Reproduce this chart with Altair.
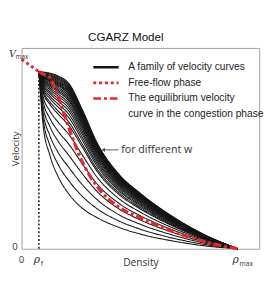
import altair as alt
import pandas as pd

# ---------------- data ----------------
rho_grid = [0.08, 0.09, 0.10, 0.13, 0.17, 0.22, 0.28, 0.35, 0.45, 0.55, 0.70, 0.85, 1.00]

family_curves = [
    [0.935, 0.780, 0.650, 0.497, 0.379, 0.287, 0.215, 0.164, 0.113, 0.077, 0.041, 0.015, 0.0],
    [0.935, 0.799, 0.684, 0.549, 0.443, 0.357, 0.278, 0.211, 0.147, 0.103, 0.056, 0.022, 0.0],
    [0.935, 0.817, 0.718, 0.600, 0.507, 0.427, 0.340, 0.259, 0.180, 0.129, 0.072, 0.029, 0.0],
    [0.935, 0.834, 0.749, 0.648, 0.566, 0.491, 0.398, 0.302, 0.211, 0.152, 0.086, 0.035, 0.0],
    [0.935, 0.850, 0.777, 0.691, 0.619, 0.550, 0.450, 0.341, 0.240, 0.174, 0.099, 0.041, 0.0],
    [0.935, 0.864, 0.803, 0.729, 0.667, 0.602, 0.497, 0.377, 0.265, 0.193, 0.110, 0.046, 0.0],
    [0.935, 0.876, 0.826, 0.764, 0.710, 0.649, 0.539, 0.408, 0.287, 0.210, 0.120, 0.050, 0.0],
    [0.935, 0.881, 0.834, 0.777, 0.726, 0.667, 0.554, 0.420, 0.296, 0.217, 0.124, 0.052, 0.0],
    [0.935, 0.887, 0.845, 0.794, 0.747, 0.690, 0.575, 0.436, 0.307, 0.225, 0.129, 0.054, 0.0],
    [0.935, 0.892, 0.854, 0.807, 0.763, 0.708, 0.591, 0.448, 0.315, 0.232, 0.133, 0.056, 0.0],
    [0.935, 0.896, 0.862, 0.820, 0.779, 0.725, 0.607, 0.460, 0.324, 0.238, 0.137, 0.058, 0.0],
    [0.935, 0.900, 0.869, 0.830, 0.792, 0.740, 0.620, 0.469, 0.331, 0.244, 0.140, 0.059, 0.0],
    [0.935, 0.904, 0.876, 0.841, 0.805, 0.754, 0.633, 0.479, 0.338, 0.249, 0.143, 0.061, 0.0],
    [0.935, 0.907, 0.882, 0.850, 0.816, 0.766, 0.643, 0.487, 0.343, 0.253, 0.146, 0.062, 0.0],
    [0.935, 0.910, 0.888, 0.858, 0.827, 0.778, 0.654, 0.495, 0.349, 0.258, 0.149, 0.063, 0.0],
    [0.935, 0.913, 0.892, 0.865, 0.835, 0.786, 0.661, 0.501, 0.353, 0.261, 0.150, 0.064, 0.0],
    [0.935, 0.915, 0.896, 0.871, 0.843, 0.795, 0.669, 0.507, 0.358, 0.264, 0.152, 0.065, 0.0],
    [0.935, 0.917, 0.901, 0.878, 0.851, 0.804, 0.677, 0.513, 0.362, 0.267, 0.154, 0.065, 0.0],
    [0.935, 0.920, 0.905, 0.884, 0.859, 0.813, 0.685, 0.519, 0.366, 0.271, 0.156, 0.066, 0.0],
    [0.935, 0.921, 0.908, 0.888, 0.864, 0.818, 0.690, 0.523, 0.369, 0.273, 0.158, 0.067, 0.0],
    [0.935, 0.923, 0.910, 0.893, 0.869, 0.824, 0.695, 0.527, 0.372, 0.275, 0.159, 0.067, 0.0],
    [0.935, 0.924, 0.913, 0.897, 0.875, 0.830, 0.701, 0.530, 0.374, 0.277, 0.160, 0.068, 0.0],
    [0.935, 0.926, 0.916, 0.901, 0.880, 0.836, 0.706, 0.534, 0.377, 0.279, 0.161, 0.069, 0.0],
    [0.935, 0.927, 0.919, 0.906, 0.885, 0.842, 0.711, 0.538, 0.380, 0.281, 0.163, 0.069, 0.0],
    [0.935, 0.929, 0.922, 0.910, 0.891, 0.848, 0.716, 0.542, 0.383, 0.283, 0.164, 0.070, 0.0],
    [0.935, 0.930, 0.925, 0.914, 0.896, 0.854, 0.721, 0.546, 0.386, 0.286, 0.165, 0.070, 0.0],
    [0.935, 0.932, 0.927, 0.918, 0.901, 0.859, 0.727, 0.550, 0.388, 0.288, 0.166, 0.071, 0.0],
    [0.935, 0.934, 0.930, 0.923, 0.907, 0.865, 0.732, 0.554, 0.391, 0.290, 0.168, 0.071, 0.0],
    [0.935, 0.935, 0.933, 0.927, 0.912, 0.871, 0.737, 0.558, 0.394, 0.292, 0.169, 0.072, 0.0],
]

equilibrium_v = [0.935, 0.929, 0.922, 0.905, 0.799, 0.635, 0.461, 0.328, 0.220, 0.164, 0.092, 0.036, 0.0]

freeflow_rho = [0.0, 0.08]
freeflow_v = [1.0, 0.935]

rho_f = 0.08
rho_max = 1.0
v_max = 1.0
v_at_rho_f = 0.935

series_names = [
    "A family of velocity curves",
    "Free-flow phase",
    "The equilibrium velocity",
    "curve in the congestion phase",
]

annotation_text = "for different w"
annotation_rho = [0.378, 0.449]
annotation_v = 0.522

# ---------------- tables ----------------
fam_rows = []
for i, curve in enumerate(family_curves):
    for r, v in zip(rho_grid, curve):
        fam_rows.append({"rho": r, "v": v, "curve": i, "series": series_names[0]})
fam_df = pd.DataFrame(fam_rows)

eq_df = pd.DataFrame({"rho": rho_grid, "v": equilibrium_v, "series": series_names[2]})
ff_df = pd.DataFrame({"rho": freeflow_rho, "v": freeflow_v, "series": series_names[1]})
vline_df = pd.DataFrame({"rho": [rho_f], "v0": [0.0], "v1": [v_at_rho_f]})
arrow_df = pd.DataFrame({"x1": [annotation_rho[0]], "x2": [annotation_rho[1]], "v": [annotation_v]})
ann_df = pd.DataFrame({"rho": [annotation_rho[1] + 0.012], "v": [annotation_v], "t": [annotation_text]})

RED = "#e2282d"

xs = alt.Scale(domain=[0, 1.1], nice=False, zero=False)
ys = alt.Scale(domain=[0, 1.06], nice=False, zero=False)

color_scale = alt.Scale(domain=series_names, range=["#151515", RED, RED, "transparent"])
dash_scale = alt.Scale(domain=series_names, range=[[1, 0], [3, 3], [8, 3, 3, 3], [1, 0]])

legend = alt.Legend(
    title=None, orient="none", legendX=81, legendY=14,
    symbolType="M-2.9,0H2.9", symbolSize=81, symbolStrokeWidth=2.6,
    labelFont="Liberation Sans", labelFontSize=10.5, labelColor="#222",
    labelOffset=17, rowPadding=4, padding=0, labelLimit=300,
)

X = alt.X("rho:Q", scale=xs, axis=alt.Axis(title="Density", labels=False, ticks=False, domain=False,
                                            grid=False, titleFont="Open Sans", titleFontSize=10.5,
                                            titleFontWeight="normal", titleColor="#333", titlePadding=9))
Y = alt.Y("v:Q", scale=ys, axis=alt.Axis(title="Velocity", labels=False, ticks=False, domain=False,
                                          grid=False, titleFont="Open Sans", titleFontSize=10,
                                          titleFontWeight="normal", titleColor="#333",
                                          titleBaseline="alphabetic", titlePadding=3))

def line_enc():
    return dict(
        color=alt.Color("series:N", scale=color_scale, legend=legend),
        strokeDash=alt.StrokeDash("series:N", scale=dash_scale, legend=legend),
    )

family = alt.Chart(fam_df).mark_line(interpolate="monotone", strokeCap="butt", strokeWidth=1.1).encode(
    x=X, y=Y, detail="curve:N", **line_enc()
)

vline = alt.Chart(vline_df).mark_rule(color="#222", strokeWidth=1.6, strokeDash=[2, 2]).encode(
    x=alt.X("rho:Q", scale=xs), y=alt.Y("v0:Q", scale=ys), y2="v1:Q"
)

freeflow = alt.Chart(ff_df).mark_line(strokeCap="butt", strokeWidth=3).encode(
    x=alt.X("rho:Q", scale=xs), y=alt.Y("v:Q", scale=ys), **line_enc()
)

equil = alt.Chart(eq_df).mark_line(interpolate="monotone", strokeCap="butt", strokeWidth=3.3).encode(
    x=alt.X("rho:Q", scale=xs), y=alt.Y("v:Q", scale=ys), **line_enc()
)

arrow_line = alt.Chart(arrow_df).mark_rule(color="#555", strokeWidth=1).encode(
    x=alt.X("x1:Q", scale=xs), x2="x2:Q", y=alt.Y("v:Q", scale=ys)
)
arrow_head = alt.Chart(arrow_df).mark_point(shape="triangle-left", filled=True, color="#555",
                                            size=18, opacity=1).encode(
    x=alt.X("x1:Q", scale=xs), y=alt.Y("v:Q", scale=ys)
)
ann = alt.Chart(ann_df).mark_text(align="left", baseline="middle", font="Open Sans",
                                  fontSize=11, color="#333").encode(
    x=alt.X("rho:Q", scale=xs), y=alt.Y("v:Q", scale=ys), text="t:N"
)

# tick labels
xtick_df = pd.DataFrame({"rho": [0.0], "t": ["0"]})
xtick = alt.Chart(xtick_df).mark_text(align="center", baseline="middle", font="Open Sans",
                                      fontSize=10, color="#333").encode(
    x=alt.X("rho:Q", scale=xs), y=alt.value(219), text="t:N"
)
rho_df = pd.DataFrame({"rho": [rho_f, rho_max], "t": ["ρ", "ρ"]})
rho_lab = alt.Chart(rho_df).mark_text(align="center", baseline="middle", font="DejaVu Serif",
                                      fontStyle="italic", fontSize=11, color="#333", dx=-2).encode(
    x=alt.X("rho:Q", scale=xs), y=alt.value(219), text="t:N"
)
sub_df = pd.DataFrame({"rho": [rho_f, rho_max], "t": ["f", "max"]})
sub_lab = alt.Chart(sub_df).mark_text(align="left", baseline="middle", font="Open Sans",
                                      fontSize=7, color="#333", dx=2).encode(
    x=alt.X("rho:Q", scale=xs), y=alt.value(223), text="t:N"
)
ytick_df = pd.DataFrame({"v": [0.0], "t": ["0"]})
ytick = alt.Chart(ytick_df).mark_text(align="right", baseline="bottom", font="Open Sans",
                                      fontSize=10, color="#333", dy=3).encode(
    x=alt.value(-4), y=alt.Y("v:Q", scale=ys), text="t:N"
)
vmax_df = pd.DataFrame({"v": [v_max], "t": ["V"]})
vmax_lab = alt.Chart(vmax_df).mark_text(align="left", baseline="middle", font="DejaVu Serif",
                                        fontStyle="italic", fontSize=10, color="#333", dy=-5).encode(
    x=alt.value(-13), y=alt.Y("v:Q", scale=ys), text="t:N"
)
vsub_df = pd.DataFrame({"v": [v_max], "t": ["max"]})
vsub_lab = alt.Chart(vsub_df).mark_text(align="left", baseline="middle", font="Open Sans",
                                        fontSize=6.5, color="#333", dy=-2).encode(
    x=alt.value(-6), y=alt.Y("v:Q", scale=ys), text="t:N"
)

chart = alt.layer(
    family, vline, freeflow, equil, arrow_line, arrow_head, ann,
    xtick, rho_lab, sub_lab, ytick, vmax_lab, vsub_lab,
).properties(
    width=245, height=207,
    title=alt.Title("CGARZ Model", font="Liberation Sans", fontSize=12, fontWeight="normal",
                    color="#111", dx=-15, offset=-8, baseline="bottom"),
    autosize=alt.AutoSizeParams(type="none"),
    padding={"left": 14, "top": 37, "right": 7, "bottom": 27},
).configure_view(stroke="#a0a0a0", strokeWidth=1)

chart.save("out.html", embed_options={"renderer": "svg", "actions": False})
